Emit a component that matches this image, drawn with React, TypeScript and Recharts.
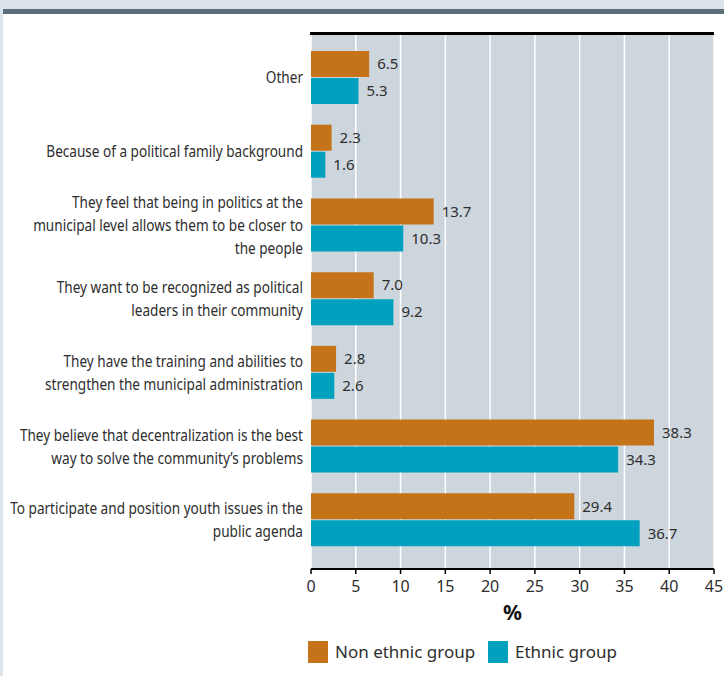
import { BarChart, Bar, XAxis, YAxis, CartesianGrid, LabelList } from "recharts";

const categories = [
  "Other",
  "Because of a political family background",
  "They feel that being in politics at the\nmunicipal level allows them to be closer to\nthe people",
  "They want to be recognized as political\nleaders in their community",
  "They have the training and abilities to\nstrengthen the municipal administration",
  "They believe that decentralization is the best\nway to solve the community\u2019s problems",
  "To participate and position youth issues in the\npublic agenda",
];
const nonEthnic = [6.5, 2.3, 13.7, 7.0, 2.8, 38.3, 29.4];
const ethnic = [5.3, 1.6, 10.3, 9.2, 2.6, 34.3, 36.7];
const xTicks = [0, 5, 10, 15, 20, 25, 30, 35, 40, 45];

const data = categories.map((name, i) => ({
  name,
  nonEthnic: nonEthnic[i],
  ethnic: ethnic[i],
}));

const ORANGE = "#c47318";
const TEAL = "#00a0bf";
const TEXT = "#2e2e2e";
const FONT = "'Noto Sans', sans-serif";

// reference font is a condensed sans, so squeeze Noto Sans a bit
function CategoryTick(props: any) {
  const { x, y, payload } = props;
  const lines = String(payload.value).split("\n");
  const lh = 23;
  const startY = -((lines.length - 1) * lh) / 2;
  return (
    <g transform={`translate(${x},${y}) scale(0.85,1)`}>
      <text x={0} y={startY} textAnchor="end" fill={TEXT} fontSize={16} fontFamily={FONT}>
        {lines.map((l, i) => (
          <tspan key={i} x={0} dy={i === 0 ? "0.35em" : lh}>
            {l}
          </tspan>
        ))}
      </text>
    </g>
  );
}

function LegendBox() {
  const item = (color: string, text: string, w: number) => (
    <div style={{ display: "flex", alignItems: "center", width: w }}>
      <div style={{ width: 20, height: 22, background: color, marginRight: 7 }} />
      <span style={{ fontSize: 17, color: TEXT, fontFamily: FONT }}>{text}</span>
    </div>
  );
  return (
    <div style={{ position: "absolute", left: 308, top: 640, display: "flex" }}>
      {item(ORANGE, "Non ethnic group", 180)}
      {item(TEAL, "Ethnic group", 140)}
    </div>
  );
}

export default function App() {
  return (
    <div
      style={{
        position: "absolute",
        left: 0,
        top: 0,
        width: 724,
        height: 676,
        background: "#dde3ea",
        overflow: "hidden",
      }}
    >
      <div style={{ position: "absolute", left: 3, top: 9, width: 721, height: 5, background: "#5b6e7a" }} />
      <div style={{ position: "absolute", left: 3, top: 14, width: 721, height: 662, background: "#ffffff" }} />
      <div style={{ position: "absolute", left: 0, top: 0 }}>
        <BarChart
          width={724}
          height={676}
          data={data}
          layout="vertical"
          margin={{ top: 34, right: 10, bottom: 57, left: 11 }}
          barGap={1}
        >
          <CartesianGrid
            horizontal={false}
            vertical
            stroke="#ffffff"
            strokeWidth={1.5}
            fill="#cdd5dd"
            fillOpacity={1}
          />
          <XAxis
            type="number"
            domain={[0, 45]}
            ticks={xTicks}
            interval={0}
            axisLine={{ stroke: "#000", strokeWidth: 2 }}
            tickLine={{ stroke: "#000", strokeWidth: 1.5 }}
            tickSize={5}
            tickMargin={7}
            height={50}
            tick={{ fill: TEXT, fontSize: 16, fontFamily: FONT }}
            label={{
              value: "%",
              position: "insideBottom",
              offset: -1,
              fill: "#111",
              fontSize: 21,
              fontWeight: "bold",
              fontFamily: FONT,
            }}
          />
          <YAxis
            type="category"
            dataKey="name"
            width={300}
            axisLine={false}
            tickLine={false}
            tickSize={0}
            tickMargin={8}
            interval={0}
            padding={{ top: 7, bottom: 12 }}
            tick={<CategoryTick />}
          />
          <Bar dataKey="nonEthnic" name="Non ethnic group" fill={ORANGE} barSize={26} isAnimationActive={false}>
            <LabelList
              dataKey="nonEthnic"
              position="right"
              offset={8}
              formatter={(v: any) => Number(v).toFixed(1)}
              fill={TEXT}
              fontSize={15}
              fontFamily={FONT}
            />
          </Bar>
          <Bar dataKey="ethnic" name="Ethnic group" fill={TEAL} barSize={26} isAnimationActive={false}>
            <LabelList
              dataKey="ethnic"
              position="right"
              offset={8}
              formatter={(v: any) => Number(v).toFixed(1)}
              fill={TEXT}
              fontSize={15}
              fontFamily={FONT}
            />
          </Bar>
        </BarChart>
      </div>
      {/* black rule along the top of the plot area */}
      <div style={{ position: "absolute", left: 310, top: 32, width: 404, height: 2.5, background: "#000" }} />
      <LegendBox />
    </div>
  );
}
